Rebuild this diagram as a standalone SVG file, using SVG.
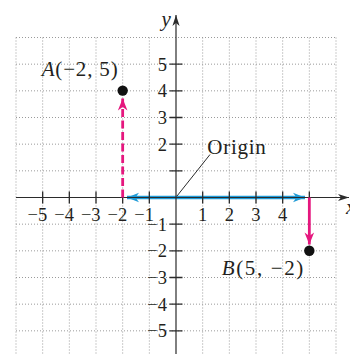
<svg xmlns="http://www.w3.org/2000/svg" width="350" height="354" viewBox="0 0 350 354">
<defs>
<style>
.grid{stroke:#9a9a9a;stroke-width:1;stroke-dasharray:1 2;fill:none}
.axis{stroke:#2b2b2b;stroke-width:1.2;fill:none}
.tick{stroke:#2b2b2b;stroke-width:1.3}
.num{font-family:"Liberation Serif","Times New Roman",serif;font-size:18.5px;fill:#231f20}
.lbl{font-family:"Liberation Serif","Times New Roman",serif;font-size:21px;fill:#231f20}
.it{font-style:italic}
.blue{stroke:#1e9ad6;stroke-width:3.6;fill:none}
.pink{stroke:#e5177e;stroke-width:2.8;fill:none}
</style>
<marker id="ab" markerUnits="userSpaceOnUse" markerWidth="16" markerHeight="12" viewBox="-13 -6 14 12" refX="0" refY="0" orient="auto">
<path d="M0,0 L-12,-4.8 L-8.5,0 L-12,4.8 Z" fill="#1e9ad6"/>
</marker>
<marker id="ap" markerUnits="userSpaceOnUse" markerWidth="16" markerHeight="12" viewBox="-13 -6 14 12" refX="0" refY="0" orient="auto">
<path d="M0,0 L-12,-4.8 L-8.5,0 L-12,4.8 Z" fill="#e5177e"/>
</marker>
<marker id="ak" markerUnits="userSpaceOnUse" markerWidth="14" markerHeight="10" viewBox="-12 -5 13 10" refX="0" refY="0" orient="auto">
<path d="M0,0 L-11,-3.6 L-8,0 L-11,3.6 Z" fill="#2b2b2b"/>
</marker>
</defs>

<g id="grid">
<path class="grid" d="M16,37.5V354 M42.67,37.5V354 M69.33,37.5V354 M96,37.5V354 M122.67,37.5V354 M149.33,37.5V354 M202.67,37.5V354 M229.33,37.5V354 M256,37.5V354 M282.67,37.5V354 M309.33,37.5V354 M336,37.5V354"/>
<path class="grid" d="M16,37.5H336 M16,64.17H336 M16,90.83H336 M16,117.5H336 M16,144.17H336 M16,170.83H336 M16,224.17H336 M16,250.83H336 M16,277.5H336 M16,304.17H336 M16,330.83H336"/>
</g>

<g id="axes">
<line class="blue" x1="176" y1="197.5" x2="127" y2="197.5" marker-end="url(#ab)"/>
<line class="blue" x1="176" y1="197.5" x2="305" y2="197.5" marker-end="url(#ab)"/>
<line class="axis" x1="16" y1="197.5" x2="349" y2="197.5" marker-end="url(#ak)"/>
<line class="axis" x1="176" y1="354" x2="176" y2="15" marker-end="url(#ak)"/>
<path class="tick" d="M42.67,191.5V203.5 M69.33,191.5V203.5 M96,191.5V203.5 M122.67,191.5V203.5 M149.33,191.5V203.5 M202.67,191.5V203.5 M229.33,191.5V203.5 M256,191.5V203.5 M282.67,191.5V203.5 M309.33,191.5V203.5"/>
<path class="tick" d="M169.5,64.17H182.5 M169.5,90.83H182.5 M169.5,117.5H182.5 M169.5,144.17H182.5 M169.5,170.83H182.5 M169.5,224.17H182.5 M169.5,250.83H182.5 M169.5,277.5H182.5 M169.5,304.17H182.5 M169.5,330.83H182.5"/>
<text class="lbl it" x="161.5" y="25.5" font-size="19">y</text>
<text class="lbl it" x="346" y="214" font-size="19">x</text>
<g class="num" text-anchor="end">
<text x="47.3" y="220.5">−5</text>
<text x="74" y="220.5">−4</text>
<text x="100.6" y="220.5">−3</text>
<text x="127.3" y="220.5">−2</text>
<text x="154" y="220.5">−1</text>
<text x="207.3" y="220.5">1</text>
<text x="234" y="220.5">2</text>
<text x="260.6" y="220.5">3</text>
<text x="287.3" y="220.5">4</text>
<text x="167" y="70.5">5</text>
<text x="167" y="97.1">4</text>
<text x="167" y="123.8">3</text>
<text x="167" y="150.5">2</text>
<text x="167" y="230.5">−1</text>
<text x="167" y="257.1">−2</text>
<text x="167" y="283.8">−3</text>
<text x="167" y="310.5">−4</text>
<text x="167" y="337.1">−5</text>
</g>
</g>

<g id="connectors">
<line class="pink" x1="122.67" y1="197.5" x2="122.67" y2="98.5" stroke-dasharray="8 3.5" marker-end="url(#ap)"/>
<line class="pink" x1="309.33" y1="197.5" x2="309.33" y2="244.5" marker-end="url(#ap)"/>
<line x1="177" y1="196" x2="210" y2="154.5" stroke="#2b2b2b" stroke-width="1"/>
</g>

<g id="pointA">
<circle cx="122.67" cy="90.6" r="5.2" fill="#111"/>
<text class="lbl" x="41.7" y="75.7" textLength="76" lengthAdjust="spacing"><tspan class="it">A</tspan>(−2, 5)</text>
</g>

<g id="pointB">
<circle cx="309.33" cy="250.8" r="5.2" fill="#111"/>
<text class="lbl" x="221.7" y="275" textLength="81.6" lengthAdjust="spacing"><tspan class="it">B</tspan>(5, −2)</text>
</g>

<g id="origin">
<text class="lbl" x="207.3" y="154" font-size="21.5" textLength="58.4" lengthAdjust="spacing">Origin</text>
</g>
</svg>
